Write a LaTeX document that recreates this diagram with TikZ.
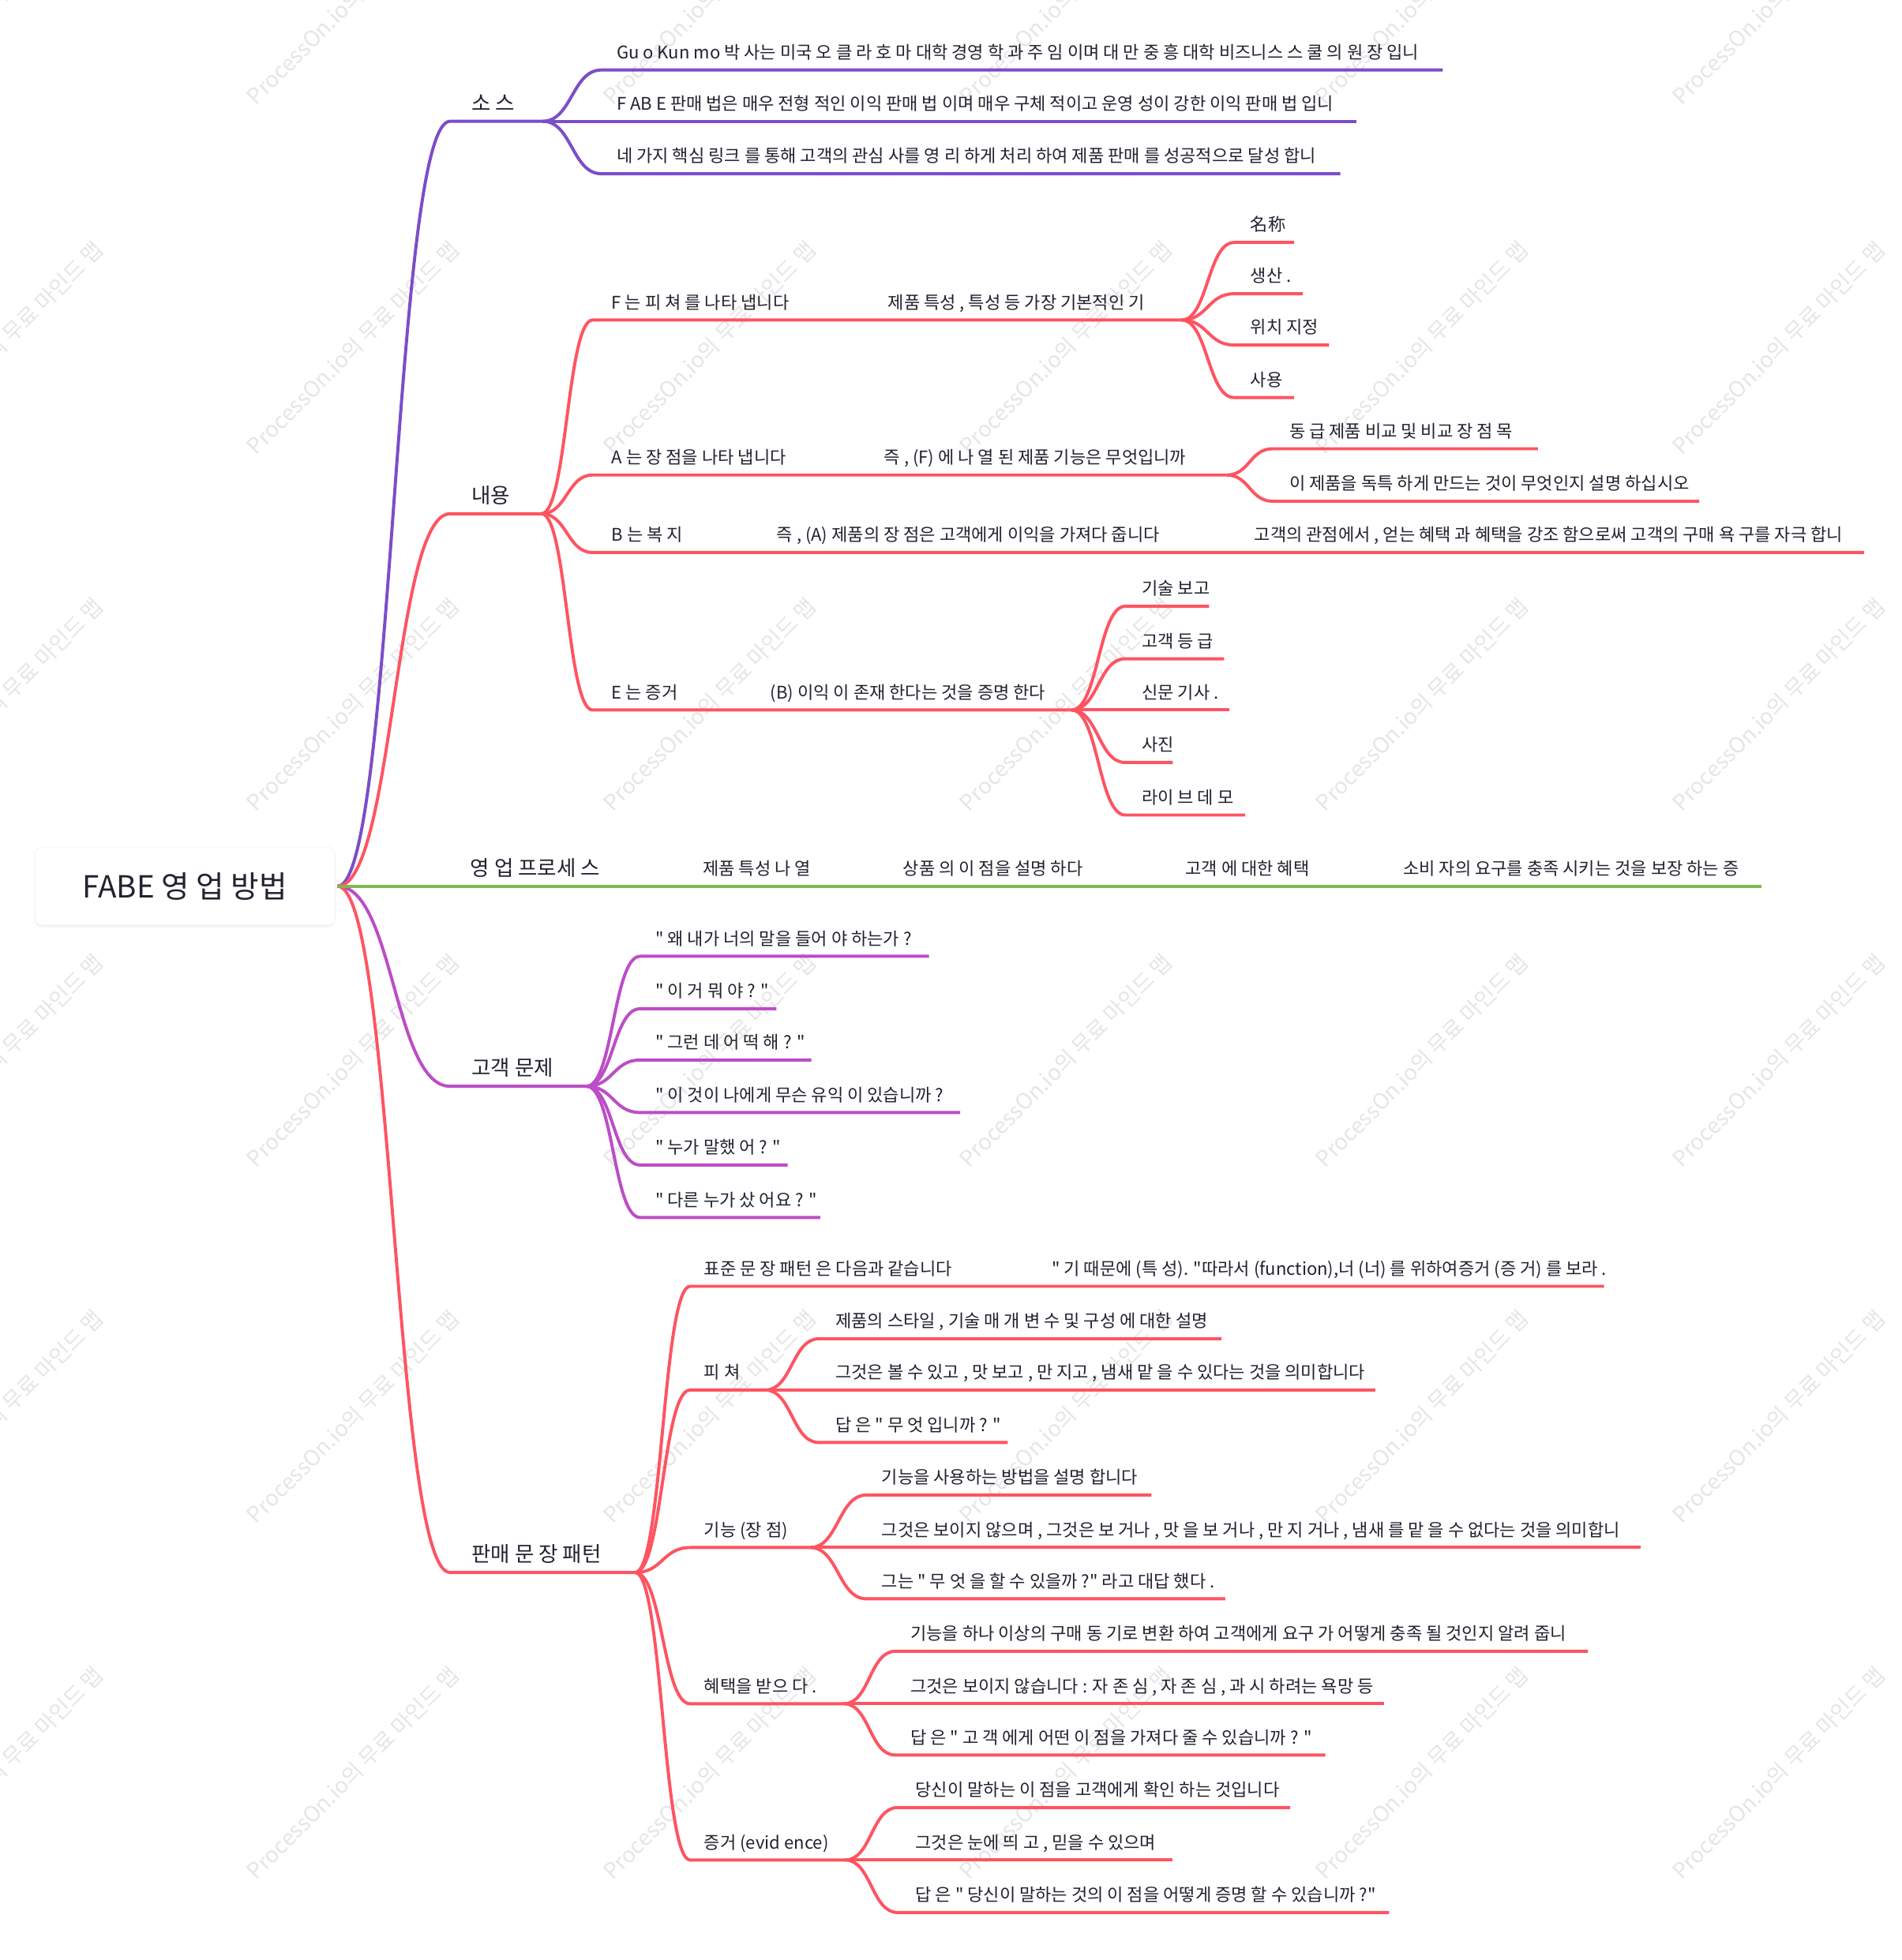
\documentclass[tikz,border=0pt]{standalone}
\usepackage{fontspec}
\setmainfont{Noto Sans CJK KR}
\newfontfamily\krfont{Noto Sans CJK KR}
\usetikzlibrary{calc,shadows}
\definecolor{cpur}{HTML}{7B4DC9}
\definecolor{cred}{HTML}{FE5462}
\definecolor{cgrn}{HTML}{7DBA4A}
\definecolor{cmag}{HTML}{BC4DC6}
\definecolor{ctxt}{HTML}{222230}
\definecolor{cwm}{HTML}{E6E6E6}
\newcommand{\fsleaf}{\krfont\fontsize{11.15pt}{13pt}\selectfont}
\newcommand{\fslone}{\krfont\fontsize{13.4pt}{15pt}\selectfont}
\newcommand{\fsroot}{\krfont\fontsize{19.5pt}{23pt}\selectfont}
\tikzset{
  lbl/.style={anchor=base west, inner sep=0pt, font=\fsleaf, text=ctxt},
  lone/.style={anchor=base west, inner sep=0pt, font=\fslone, text=ctxt},
  br/.style={line width=2pt},
  rootbox/.style={draw=black!5, fill=white, rounded corners=4pt, minimum width=192pt, minimum height=49.6pt, font=\fsroot, text=ctxt, drop shadow={opacity=0.07, shadow xshift=0pt, shadow yshift=-1.5pt}},
  wm/.style={anchor=base west, inner sep=0pt, rotate=45, text=cwm, font=\krfont\fontsize{14pt}{16pt}\selectfont}
}
% name, parent, startx, underline y, textx, endx, text, colour
\newcommand{\mmleaf}[8]{%
  \coordinate (#1s) at (#3,#4);
  \coordinate (#1e) at (#6,#4);
  \coordinate (#1m) at ($(#2)!0.5!(#1s)$);
  \node[lbl] (#1) at ({#5},{#4-9}) {#7};
  \draw[br,#8] (#2) .. controls (#1m |- #2) and (#1m |- #1s) .. (#1s) -- (#1e);
}
\newcommand{\mmlone}[8]{%
  \coordinate (#1s) at (#3,#4);
  \coordinate (#1e) at (#6,#4);
  \coordinate (#1m) at ($(#2)!0.5!(#1s)$);
  \node[lone] (#1) at ({#5},{#4-8.5}) {#7};
  \draw[br,#8] (#2) .. controls (#1m |- #2) and (#1m |- #1s) .. (#1s) -- (#1e);
}
\begin{document}
\begin{tikzpicture}[x=0.8pt,y=-0.8pt]
\fill[white] (0,0) rectangle (1521,1568);
\useasboundingbox (0,0) rectangle (1521,1568);
% watermark
\begin{scope}
\clip (0,0) rectangle (1521,1568);
\foreach \wy in {85,365,650,935,1220,1505} {
  \foreach \wx in {-80,205,490,775,1060,1345} {
    \node[wm] at (\wx,\wy) {ProcessOn.io의 무료 마인드 맵};
  }
}
\end{scope}
% root
\node[rootbox] (root) at (148,709) {FABE 영 업 방법};
\coordinate (r0) at (270,709);
% level 1
\mmlone{S}{r0}{360}{97}{377}{434}{소 스}{cpur}
\mmlone{N}{r0}{360}{411}{377}{433}{내용}{cred}
\mmlone{K}{r0}{360}{869}{377}{469}{고객 문제}{cmag}
\mmlone{M}{r0}{360}{1258}{377}{508}{판매 문 장 패턴}{cred}
% sales process (green)
\coordinate (Pe) at (1409,709);
\draw[br,cgrn] (r0) -- (Pe);
\node[lone] (P1) at (376,700.5) {영 업 프로세 스};
\node[lbl] (P2) at (562,700) {제품 특성 나 열};
\node[lbl] (P3) at (722,700) {상품 의 이 점을 설명 하다};
\node[lbl] (P4) at (948,700) {고객 에 대한 혜택};
\node[lbl] (P5) at (1122,700) {소비 자의 요구를 충족 시키는 것을 보장 하는 증};
% source
\mmleaf{s1}{Se}{481}{56}{493}{1154}{Gu o Kun mo 박 사는 미국 오 클 라 호 마 대학 경영 학 과 주 임 이며 대 만 중 흥 대학 비즈니스 스 쿨 의 원 장 입니}{cpur}
\mmleaf{s2}{Se}{481}{97}{493}{1085}{F AB E 판매 법은 매우 전형 적인 이익 판매 법 이며 매우 구체 적이고 운영 성이 강한 이익 판매 법 입니}{cpur}
\mmleaf{s3}{Se}{481}{139}{493}{1072}{네 가지 핵심 링크 를 통해 고객의 관심 사를 영 리 하게 처리 하여 제품 판매 를 성공적으로 달성 합니}{cpur}
% content
\mmleaf{nF}{Ne}{474}{256}{489}{945}{F 는 피 쳐 를 나타 냅니다}{cred}
\node[lbl] (nF2) at (710,247) {제품 특성 , 특성 등 가장 기본적인 기};
\mmleaf{f1}{nFe}{987}{194}{1000}{1035}{名称}{cred}
\mmleaf{f2}{nFe}{987}{235}{1000}{1042}{생산 .}{cred}
\mmleaf{f3}{nFe}{987}{276}{1000}{1063}{위치 지정}{cred}
\mmleaf{f4}{nFe}{987}{318}{1000}{1035}{사용}{cred}
\mmleaf{nA}{Ne}{474}{380}{489}{981}{A 는 장 점을 나타 냅니다}{cred}
\node[lbl] (nA2) at (707,371) {즉 , (F) 에 나 열 된 제품 기능은 무엇입니까};
\mmleaf{a1}{nAe}{1018}{359}{1031}{1230}{동 급 제품 비교 및 비교 장 점 목}{cred}
\mmleaf{a2}{nAe}{1018}{401}{1031}{1359}{이 제품을 독특 하게 만드는 것이 무엇인지 설명 하십시오}{cred}
\mmleaf{nB}{Ne}{474}{442}{489}{1491}{B 는 복 지}{cred}
\node[lbl] (nB2) at (621,433) {즉 , (A) 제품의 장 점은 고객에게 이익을 가져다 줍니다};
\node[lbl] (nB3) at (1003,433) {고객의 관점에서 , 얻는 혜택 과 혜택을 강조 함으로써 고객의 구매 욕 구를 자극 합니};
\mmleaf{nE}{Ne}{474}{568}{489}{857}{E 는 증거}{cred}
\node[lbl] (nE2) at (616,559) {(B) 이익 이 존재 한다는 것을 증명 한다};
\mmleaf{e1}{nEe}{900}{485}{913}{967}{기술 보고}{cred}
\mmleaf{e2}{nEe}{900}{527}{913}{979}{고객 등 급}{cred}
\mmleaf{e3}{nEe}{900}{568}{913}{983}{신문 기사 .}{cred}
\mmleaf{e4}{nEe}{900}{610}{913}{938}{사진}{cred}
\mmleaf{e5}{nEe}{900}{652}{913}{996}{라이 브 데 모}{cred}
% customer questions
\mmleaf{k1}{Ke}{512}{765}{524}{743}{" 왜 내가 너의 말을 들어 야 하는가 ?}{cmag}
\mmleaf{k2}{Ke}{512}{807}{524}{621}{" 이 거 뭐 야 ? "}{cmag}
\mmleaf{k3}{Ke}{512}{848}{524}{649}{" 그런 데 어 떡 해 ? "}{cmag}
\mmleaf{k4}{Ke}{512}{890}{524}{768}{" 이 것이 나에게 무슨 유익 이 있습니까 ?}{cmag}
\mmleaf{k5}{Ke}{512}{932}{524}{630}{" 누가 말했 어 ? "}{cmag}
\mmleaf{k6}{Ke}{512}{974}{524}{656}{" 다른 누가 샀 어요 ? "}{cmag}
% sales sentence pattern
\mmleaf{m1}{Me}{552}{1029}{563}{1283}{표준 문 장 패턴 은 다음과 같습니다}{cred}
\node[lbl] (m1b) at (841,1020) {" 기 때문에 (특 성). "따라서 (function),너 (너) 를 위하여증거 (증 거) 를 보라 .};
\mmleaf{m2}{Me}{552}{1112}{563}{612}{피 쳐}{cred}
\mmleaf{p1}{m2e}{655}{1071}{668}{977}{제품의 스타일 , 기술 매 개 변 수 및 구성 에 대한 설명}{cred}
\mmleaf{p2}{m2e}{655}{1112}{668}{1100}{그것은 볼 수 있고 , 맛 보고 , 만 지고 , 냄새 맡 을 수 있다는 것을 의미합니다}{cred}
\mmleaf{p3}{m2e}{655}{1154}{668}{806}{답 은 " 무 엇 입니까 ? "}{cred}
\mmleaf{m3}{Me}{552}{1238}{563}{648}{기능 (장 점)}{cred}
\mmleaf{q1}{m3e}{693}{1196}{705}{921}{기능을 사용하는 방법을 설명 합니다}{cred}
\mmleaf{q2}{m3e}{693}{1238}{705}{1312}{그것은 보이지 않으며 , 그것은 보 거나 , 맛 을 보 거나 , 만 지 거나 , 냄새 를 맡 을 수 없다는 것을 의미합니}{cred}
\mmleaf{q3}{m3e}{693}{1279}{705}{980}{그는 " 무 엇 을 할 수 있을까 ?" 라고 대답 했다 .}{cred}
\mmleaf{m4}{Me}{552}{1363}{563}{675}{혜택을 받으 다 .}{cred}
\mmleaf{b1}{m4e}{716}{1321}{728}{1270}{기능을 하나 이상의 구매 동 기로 변환 하여 고객에게 요구 가 어떻게 충족 될 것인지 알려 줍니}{cred}
\mmleaf{b2}{m4e}{716}{1363}{728}{1107}{그것은 보이지 않습니다 : 자 존 심 , 자 존 심 , 과 시 하려는 욕망 등}{cred}
\mmleaf{b3}{m4e}{716}{1404}{728}{1060}{답 은 " 고 객 에게 어떤 이 점을 가져다 줄 수 있습니까 ? "}{cred}
\mmleaf{m5}{Me}{552}{1488}{563}{676}{증거 (evid ence)}{cred}
\mmleaf{v1}{m5e}{718}{1446}{732}{1032}{당신이 말하는 이 점을 고객에게 확인 하는 것입니다}{cred}
\mmleaf{v2}{m5e}{718}{1488}{732}{938}{그것은 눈에 띄 고 , 믿을 수 있으며}{cred}
\mmleaf{v3}{m5e}{718}{1530}{732}{1111}{답 은 " 당신이 말하는 것의 이 점을 어떻게 증명 할 수 있습니까 ?"}{cred}
\end{tikzpicture}
\end{document}
